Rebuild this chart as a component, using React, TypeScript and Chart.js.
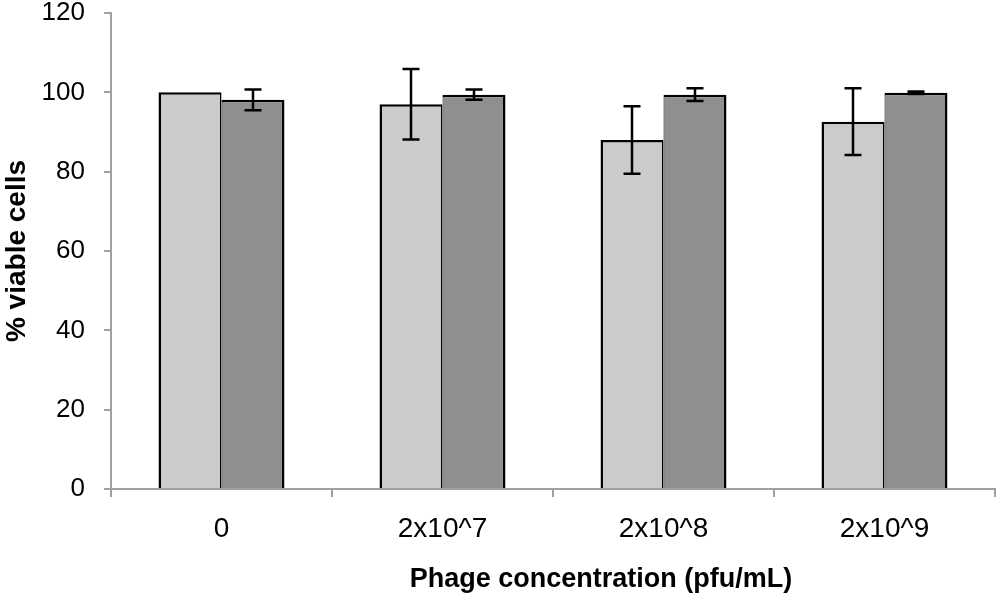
import { useRef, useEffect } from 'react';
import { Chart, registerables, type ChartConfiguration, type Plugin } from 'chart.js';

Chart.register(...registerables);

// values
const categories = ['0', '2x10^7', '2x10^8', '2x10^9'];
const lightValues = [100, 97.0, 88.0, 92.6];
const lightErrors = [0, 8.9, 8.5, 8.4];
const darkValues = [98.1, 99.4, 99.4, 99.9];
const darkErrors = [2.6, 1.3, 1.6, 0.3];
const yTicks = [0, 20, 40, 60, 80, 100, 120];

const xTitle = 'Phage concentration (pfu/mL)';
const yTitle = '% viable cells';

const errorBars: Plugin<'bar'> = {
    id: 'errorBars',
    afterDatasetsDraw(chart) {
        const { ctx } = chart;
        const yScale = chart.scales.y;
        const allErrors = [lightErrors, darkErrors];
        const allValues = [lightValues, darkValues];
        ctx.save();
        ctx.strokeStyle = '#000';
        ctx.lineWidth = 2.5;
        chart.data.datasets.forEach((_, i) => {
            const meta = chart.getDatasetMeta(i);
            meta.data.forEach((bar: any, j: number) => {
                const err = allErrors[i][j];
                if (!err) return;
                const v = allValues[i][j];
                const top = yScale.getPixelForValue(v + err);
                const bottom = yScale.getPixelForValue(v - err);
                const half = 8.5;
                ctx.beginPath();
                ctx.moveTo(bar.x, top);
                ctx.lineTo(bar.x, bottom);
                ctx.moveTo(bar.x - half, top);
                ctx.lineTo(bar.x + half, top);
                ctx.moveTo(bar.x - half, bottom);
                ctx.lineTo(bar.x + half, bottom);
                ctx.stroke();
            });
        });
        ctx.restore();
    }
};

// x-axis title sits a bit right of the plot centre in the original
const xTitlePlugin: Plugin<'bar'> = {
    id: 'xTitle',
    afterDraw(chart) {
        const { ctx, chartArea } = chart;
        ctx.save();
        ctx.font = "bold 27px 'Liberation Sans', Arial, sans-serif";
        ctx.fillStyle = '#000';
        ctx.textAlign = 'center';
        ctx.textBaseline = 'alphabetic';
        ctx.fillText(xTitle, (chartArea.left + chartArea.right) / 2 + 48, 587);
        ctx.restore();
    }
};

export default function App() {
    const chartRef = useRef<HTMLCanvasElement>(null);

    useEffect(() => {
        if (!chartRef.current) return;
        const config = {
            type: 'bar',
            data: {
                labels: categories,
                datasets: [
                    {
                        label: 'Series 1',
                        data: lightValues,
                        backgroundColor: '#cbcbcb',
                        borderColor: '#000',
                        borderWidth: { top: 2.5, left: 2.5, right: 1.5, bottom: 0 },
                        borderSkipped: false
                    },
                    {
                        label: 'Series 2',
                        data: darkValues,
                        backgroundColor: '#8f8f8f',
                        borderColor: '#000',
                        borderWidth: { top: 2.5, left: 1, right: 2.5, bottom: 0 },
                        borderSkipped: false
                    }
                ]
            },
            options: {
                animation: false,
                responsive: true,
                maintainAspectRatio: false,
                categoryPercentage: 0.57,
                barPercentage: 1.0,
                layout: { padding: { top: 0, right: 5, bottom: 56, left: 0 } },
                plugins: {
                    legend: { display: false },
                    tooltip: { enabled: false }
                },
                scales: {
                    x: {
                        afterFit: (scale: any) => {
                            scale.height = 54;
                        },
                        grid: {
                            offset: true,
                            drawOnChartArea: false,
                            drawTicks: true,
                            tickLength: 8,
                            color: '#a0a0a0',
                            lineWidth: 2
                        },
                        border: { color: '#a0a0a0', width: 2 },
                        ticks: {
                            color: '#000',
                            padding: 15,
                            font: { family: "'Liberation Sans', Arial, sans-serif", size: 28 }
                        }
                    },
                    y: {
                        min: 0,
                        max: 120,
                        afterBuildTicks: (scale: any) => {
                            scale.ticks = yTicks.map((v) => ({ value: v }));
                        },
                        afterFit: (scale: any) => {
                            scale.width = 111;
                            scale.paddingTop = 13;
                            scale.paddingBottom = 0;
                        },
                        grid: {
                            drawOnChartArea: false,
                            drawTicks: true,
                            tickLength: 7,
                            color: '#a0a0a0',
                            lineWidth: 2
                        },
                        border: { color: '#a0a0a0', width: 2 },
                        ticks: {
                            color: '#000',
                            padding: 19,
                            font: { family: "'Liberation Sans', Arial, sans-serif", size: 26, lineHeight: 1 }
                        },
                        title: {
                            display: true,
                            text: yTitle,
                            color: '#000',
                            padding: { top: 0, bottom: 8 },
                            font: { family: "'Liberation Sans', Arial, sans-serif", size: 28, weight: 'bold', lineHeight: 1.2 }
                        }
                    }
                }
            },
            plugins: [errorBars, xTitlePlugin]
        };

        const chart = new Chart(chartRef.current, config as ChartConfiguration);
        return () => {
            chart.destroy();
        };
    }, []);

    return (
        <div style={{ position: 'fixed', left: 0, top: 0, width: 1000, height: 599, background: '#fff' }}>
            <canvas ref={chartRef}></canvas>
        </div>
    );
}
